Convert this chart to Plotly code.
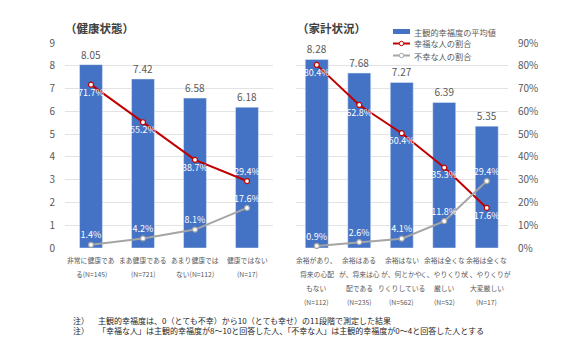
import plotly.graph_objects as go

# ---------------- data ----------------
health_labels = [
    ["非常に健康であ", "る(N=145)"],
    ["まあ健康である", "(N=721)"],
    ["あまり健康では", "ない(N=112)"],
    ["健康ではない", "(N=17)"],
]
health_mean = [8.05, 7.42, 6.58, 6.18]
health_happy = [71.7, 55.2, 38.7, 29.4]
health_unhappy = [1.4, 4.2, 8.1, 17.6]

finance_labels = [
    ["余裕があり、", "将来の心配", "もない", "(N=112)"],
    ["余裕はある", "が、将来は心", "配である", "(N=235)"],
    ["余裕はない", "が、何とかや", "りくりしている", "(N=562)"],
    ["余裕は全くな", "く、やりくりが", "厳しい", "(N=52)"],
    ["余裕は全くな", "く、やりくりが", "大変厳しい", "(N=17)"],
]
finance_mean = [8.28, 7.68, 7.27, 6.39, 5.35]
finance_happy = [80.4, 62.8, 50.4, 35.3, 17.6]
finance_unhappy = [0.9, 2.6, 4.1, 11.8, 29.4]

titles = ["（健康状態）", "（家計状況）"]
series_names = ["主観的幸福度の平均値", "幸福な人の割合", "不幸な人の割合"]
notes = [
    "主観的幸福度は、0（とても不幸）から10（とても幸せ）の11段階で測定した結果",
    "「幸福な人」は主観的幸福度が8～10と回答した人、「不幸な人」は主観的幸福度が0～4と回答した人とする",
]

# ---------------- styles ----------------
W, H = 578, 347
FONT = "Noto Sans CJK JP"
BLUE = "#4472C4"
RED = "#C00000"
GRAY = "#A5A5A5"
TXT = "#595959"
GRID = "#E3E3E3"

def px_x(p):
    return p / W

def px_y(p):
    return 1 - p / H

fig = go.Figure()

hx = list(range(len(health_mean)))
fx = list(range(len(finance_mean)))

def line_trace(x, y, color, name, pos, xa, ya):
    return go.Scatter(x=x, y=y, mode="lines+markers+text",
                      line=dict(color=color, width=2),
                      marker=dict(size=5, color="white", line=dict(color=color, width=1.2)),
                      texttemplate="%{y:.1f}%", textposition=pos,
                      textfont=dict(color="white", size=9),
                      name=name, showlegend=False, cliponaxis=False,
                      xaxis=xa, yaxis=ya)

# left chart
fig.add_trace(go.Bar(x=hx, y=health_mean, width=0.44, marker_color=BLUE,
                     name=series_names[0], showlegend=False,
                     texttemplate="%{y:.2f}", textposition="outside",
                     textfont=dict(color=TXT, size=10), cliponaxis=False,
                     xaxis="x", yaxis="y"))
fig.add_trace(line_trace(hx, health_happy, RED, series_names[1],
                         ["bottom center", "bottom center", "bottom center", "top center"], "x", "y4"))
fig.add_trace(line_trace(hx, health_unhappy, GRAY, series_names[2], "top center", "x", "y4"))

# right chart
fig.add_trace(go.Bar(x=fx, y=finance_mean, width=0.54, marker_color=BLUE,
                     name=series_names[0], showlegend=False,
                     texttemplate="%{y:.2f}", textposition="outside",
                     textfont=dict(color=TXT, size=10), cliponaxis=False,
                     xaxis="x2", yaxis="y2"))
fig.add_trace(line_trace(fx, finance_happy, RED, series_names[1], "bottom center", "x2", "y3"))
fig.add_trace(line_trace(fx, finance_unhappy, GRAY, series_names[2], "top center", "x2", "y3"))

ydom = [px_y(248), px_y(43)]
xdom1 = [px_x(65), px_x(273)]
xdom2 = [px_x(295.5), px_x(508)]

axis_common = dict(showgrid=False, zeroline=False, showticklabels=False, ticks="",
                   showline=False)

fig.update_layout(
    width=W, height=H,
    margin=dict(l=0, r=0, t=0, b=0, pad=0, autoexpand=False),
    paper_bgcolor="white", plot_bgcolor="white",
    font=dict(family=FONT, color=TXT),
    showlegend=False,
    xaxis=dict(domain=xdom1, range=[-0.5, len(hx) - 0.5], anchor="y", automargin=False, **axis_common),
    xaxis2=dict(domain=xdom2, range=[-0.5, len(fx) - 0.5], anchor="y2", automargin=False, **axis_common),
    yaxis=dict(domain=ydom, range=[0, 9], dtick=1, anchor="x", automargin=False,
               showgrid=True, gridcolor=GRID, gridwidth=1, zeroline=False,
               tickfont=dict(size=10, color=TXT), ticklabelstandoff=9),
    yaxis4=dict(range=[0, 90], overlaying="y", anchor="x", side="right", automargin=False,
                showgrid=False, zeroline=False, showticklabels=False),
    yaxis2=dict(domain=ydom, range=[0, 9], dtick=1, anchor="x2", automargin=False,
                showgrid=True, gridcolor=GRID, gridwidth=1, zeroline=False,
                showticklabels=False),
    yaxis3=dict(range=[0, 90], dtick=10, overlaying="y2", anchor="x2", side="right",
                automargin=False,
                showgrid=False, zeroline=False, ticksuffix="%",
                tickfont=dict(size=10, color=TXT), ticklabelstandoff=9),
)

ann = []
shapes = []
# titles
for t, xp in zip(titles, [63, 295]):
    ann.append(dict(text="<b>" + t + "</b>", x=px_x(xp), y=px_y(28), xref="paper", yref="paper",
                    xanchor="left", yanchor="middle", showarrow=False,
                    font=dict(size=11.5, color="#404040", family=FONT)))
# x tick labels (one annotation per line)
for i, lines in enumerate(health_labels):
    for j, ln in enumerate(lines):
        ann.append(dict(text=ln, x=i, xref="x", y=px_y(260 + 14 * j), yref="paper",
                        xanchor="center", yanchor="middle", showarrow=False,
                        font=dict(size=6.8, color=TXT)))
for i, lines in enumerate(finance_labels):
    for j, ln in enumerate(lines):
        ann.append(dict(text=ln, x=i, xref="x2", y=px_y(260 + 14 * j), yref="paper",
                        xanchor="center", yanchor="middle", showarrow=False,
                        font=dict(size=6.8, color=TXT)))
# notes
ann.append(dict(text="注）<br>注）", x=px_x(71), y=px_y(325), xref="paper", yref="paper",
                xanchor="left", yanchor="middle", showarrow=False, align="left",
                font=dict(size=8, color="#262626")))
ann.append(dict(text="<br>".join(notes), x=px_x(96), y=px_y(325), xref="paper", yref="paper",
                xanchor="left", yanchor="middle", showarrow=False, align="left",
                font=dict(size=8, color="#262626")))

# custom compact legend
leg_x0, leg_x1 = 393, 410
leg_rows = [31.5, 43.5, 55.5]
shapes.append(dict(type="rect", xref="paper", yref="paper",
                   x0=px_x(leg_x0), x1=px_x(leg_x1), y0=px_y(leg_rows[0] + 2.5), y1=px_y(leg_rows[0] - 2.5),
                   fillcolor=BLUE, line=dict(width=0)))
for row, col in zip(leg_rows[1:], [RED, GRAY]):
    shapes.append(dict(type="line", xref="paper", yref="paper",
                       x0=px_x(leg_x0), x1=px_x(leg_x1), y0=px_y(row), y1=px_y(row),
                       line=dict(color=col, width=2)))
    cx = (leg_x0 + leg_x1) / 2
    shapes.append(dict(type="circle", xref="paper", yref="paper",
                       x0=px_x(cx - 2.2), x1=px_x(cx + 2.2), y0=px_y(row + 2.2), y1=px_y(row - 2.2),
                       fillcolor="white", line=dict(color=col, width=1)))
for row, nm in zip(leg_rows, series_names):
    ann.append(dict(text=nm, x=px_x(leg_x1 + 1.5), y=px_y(row), xref="paper", yref="paper",
                    xanchor="left", yanchor="middle", showarrow=False,
                    font=dict(size=8.2, color=TXT)))

fig.update_layout(annotations=ann, shapes=shapes)

fig.write_html("out.html")
